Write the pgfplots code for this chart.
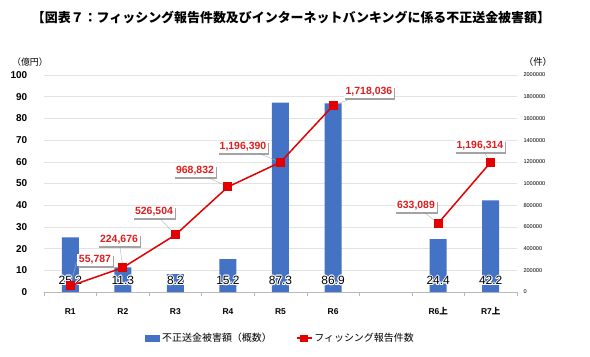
\documentclass[border=0pt]{standalone}
\usepackage{fontspec}
\setmainfont{Liberation Sans}
\newfontfamily\cjk{Noto Sans CJK JP}
\usepackage{pgfplots}
\pgfplotsset{compat=1.18}
\usetikzlibrary{shadows}
\usepackage{contour}
\contourlength{0.9bp}
\definecolor{barblue}{RGB}{68,114,196}
\definecolor{lred}{RGB}{228,0,0}
\definecolor{tred}{RGB}{222,30,30}
\tikzset{lab/.style={fill=white, text=tred, font=\bfseries\fontsize{10.5}{12}\selectfont, inner sep=1.8bp,
  drop shadow={shadow xshift=1.2bp, shadow yshift=-2bp, fill=black!45, opacity=0.8}},
  lead/.style={draw=gray!60, thin, shorten >=4bp},
  val/.style={font=\fontsize{12}{12}\selectfont}}
\begin{document}
\begin{tikzpicture}
\useasboundingbox (0,0) rectangle (590bp,357bp);
\node[font=\cjk\bfseries\fontsize{13}{15}\selectfont] at (291bp,340bp) {【図表７：フィッシング報告件数及びインターネットバンキングに係る不正送金被害額】};
\node[font=\cjk\fontsize{9}{11}\selectfont] at (30bp,295bp) {（億円）};
\node[font=\cjk\fontsize{9.5}{11}\selectfont] at (538bp,295bp) {（件）};
\begin{axis}[
  at={(44bp,65bp)}, anchor=south west, scale only axis, width=473bp, height=217bp,
  xmin=-0.5, xmax=8.5, ymin=0, ymax=100, ytick distance=10,
  xtick={0,...,8},
  xticklabels={R1,R2,R3,R4,R5,R6,{},{R6{\cjk\bfseries 上}},{R7{\cjk\bfseries 上}}},
  minor xtick={-0.5,0.5,...,8.5},
  axis x line*=bottom, axis y line*=left,
  y axis line style={draw=none}, ytick style={draw=none},
  x axis line style={gray!55},
  major x tick style={draw=none}, minor x tick style={gray!55, thin},
  minor tick length=4bp, tick align=outside,
  ymajorgrids, grid style={gray!22},
  xticklabel style={font=\bfseries\fontsize{8.5}{10}\selectfont, anchor=base, yshift=-18.5bp},
  yticklabel style={font=\bfseries\fontsize{10}{12}\selectfont, xshift=-9bp, /pgf/number format/assume math mode=true},
  legend style={draw=none, at={(0.5,-0.212)}, anchor=center, legend columns=2,
    font=\cjk\fontsize{10}{12}\selectfont, /tikz/every even column/.append style={column sep=22bp}},
  clip=false,
]
\addplot[ybar, bar width=17bp, fill=barblue, draw=none,
  legend image code/.code={\fill[barblue] (0bp,-3.5bp) rectangle (15bp,3.5bp);}]
  coordinates {(0,25.2)(1,11.3)(2,8.2)(3,15.2)(4,87.3)(5,86.9)(7,24.4)(8,42.2)};
\addlegendentry{不正送金被害額（概数）}
\addlegendimage{legend image code/.code={\draw[lred, line width=1.5bp] (0bp,0bp) -- (15bp,0bp); \fill[lred] (4bp,-3.2bp) rectangle (10.4bp,3.2bp);}}
\addlegendentry{フィッシング報告件数}
\node[val] at (axis cs:0,5) {\contour{white}{25.2}};
\node[val] at (axis cs:1,5) {\contour{white}{11.3}};
\node[val] at (axis cs:2,5) {\contour{white}{8.2}};
\node[val] at (axis cs:3,5) {\contour{white}{15.2}};
\node[val] at (axis cs:4,5) {\contour{white}{87.3}};
\node[val] at (axis cs:5,5) {\contour{white}{86.9}};
\node[val] at (axis cs:7,5) {\contour{white}{24.4}};
\node[val] at (axis cs:8,5) {\contour{white}{42.2}};
\end{axis}
\begin{axis}[
  at={(44bp,65bp)}, anchor=south west, scale only axis, width=473bp, height=217bp,
  xmin=-0.5, xmax=8.5, ymin=0, ymax=2000000, ytick distance=200000,
  axis x line=none, axis y line*=right,
  y axis line style={draw=none}, ytick style={draw=none},
  scaled y ticks=false,
  yticklabel style={font=\fontsize{5.6}{6}\selectfont, /pgf/number format/fixed,
    /pgf/number format/1000 sep={}, /pgf/number format/assume math mode=true, xshift=3bp},
  clip=false,
]
\draw[lead] (axis cs:0.12,276000) -- (axis cs:0,55787);
\draw[lead] (axis cs:0.927,479263) -- (axis cs:1,224676);
\draw[lead] (axis cs:1.593,737327) -- (axis cs:2,526504);
\draw[lead] (axis cs:2.373,1115207) -- (axis cs:3,968832);
\draw[lead] (axis cs:3.286,1336406) -- (axis cs:4,1196390);
\draw[lead] (axis cs:5.683,1843318) -- (axis cs:5,1718036);
\draw[lead] (axis cs:6.578,792627) -- (axis cs:7,633089);
\draw[lead] (axis cs:7.795,1345622) -- (axis cs:8,1196314);
\addplot[lred, line width=1.5bp, mark=square*, mark size=3.8bp, mark options={solid}]
  coordinates {(0,55787)(1,224676)(2,526504)(3,968832)(4,1196390)(5,1718036)};
\addplot[lred, line width=1.5bp, mark=square*, mark size=3.8bp, mark options={solid}]
  coordinates {(7,633089)(8,1196314)};
\node[lab] at (axis cs:0.470,295000) {55,787};
\node[lab] at (axis cs:0.927,479263) {224,676};
\node[lab] at (axis cs:1.593,737327) {526,504};
\node[lab] at (axis cs:2.373,1115207) {968,832};
\node[lab] at (axis cs:3.286,1336406) {1,196,390};
\node[lab] at (axis cs:5.683,1843318) {1,718,036};
\node[lab] at (axis cs:6.578,792627) {633,089};
\node[lab] at (axis cs:7.795,1345622) {1,196,314};
\end{axis}
\end{tikzpicture}
\end{document}
